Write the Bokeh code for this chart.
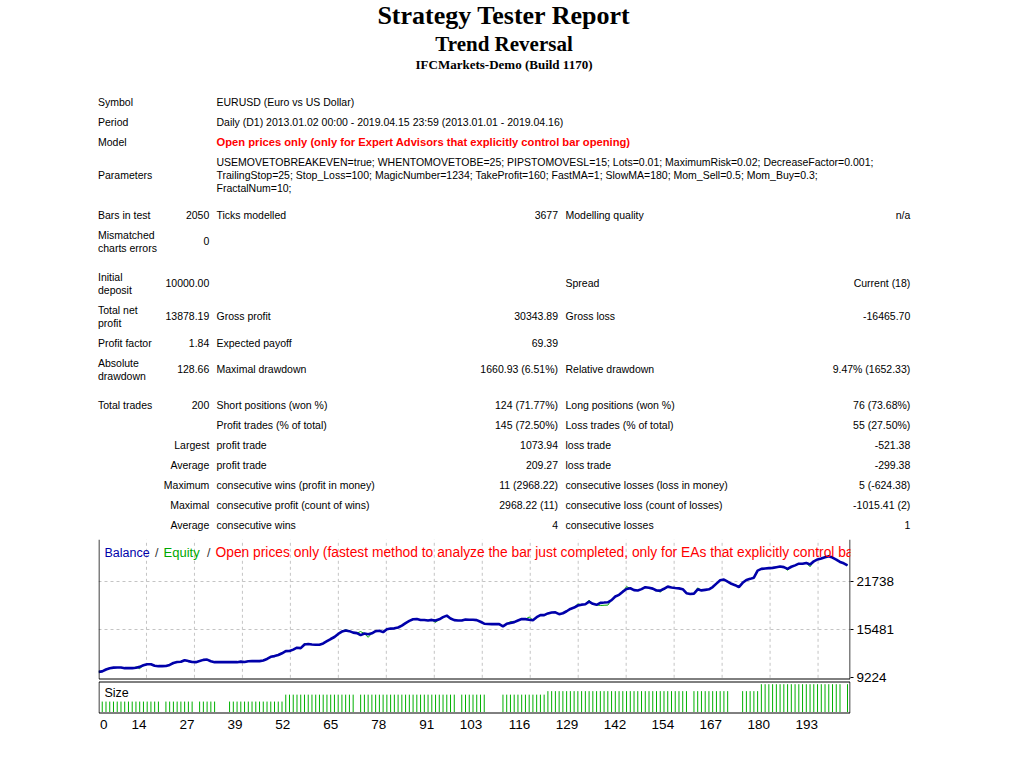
from bokeh.plotting import figure
from bokeh.models import Range1d, FixedTicker
from bokeh.layouts import column
from bokeh.embed import file_html
from bokeh.resources import INLINE
from bokeh.core.properties import value

# ---------------- data ----------------
report_title = "Strategy Tester Report"
expert_name = "Trend Reversal"
server_name = "IFCMarkets-Demo (Build 1170)"

info_labels = ["Symbol", "Period", "Model", "Parameters"]
info_values = [
    ["EURUSD (Euro vs US Dollar)"],
    ["Daily (D1) 2013.01.02 00:00 - 2019.04.15 23:59 (2013.01.01 - 2019.04.16)"],
    ["Open prices only (only for Expert Advisors that explicitly control bar opening)"],
    ["USEMOVETOBREAKEVEN=true; WHENTOMOVETOBE=25; PIPSTOMOVESL=15; Lots=0.01; MaximumRisk=0.02; DecreaseFactor=0.001;",
     "TrailingStop=25; Stop_Loss=100; MagicNumber=1234; TakeProfit=160; FastMA=1; SlowMA=180; Mom_Sell=0.5; Mom_Buy=0.3;",
     "FractalNum=10;"],
]

stat_col0 = ["Bars in test", "Mismatched\ncharts errors", "Initial\ndeposit", "Total net\nprofit",
             "Profit factor", "Absolute\ndrawdown", "Total trades", "", "", "", "", "", ""]
stat_col1 = ["2050", "0", "10000.00", "13878.19", "1.84", "128.66", "200", "",
             "Largest", "Average", "Maximum", "Maximal", "Average"]
stat_col2 = ["Ticks modelled", "", "", "Gross profit", "Expected payoff", "Maximal drawdown",
             "Short positions (won %)", "Profit trades (% of total)", "profit trade", "profit trade",
             "consecutive wins (profit in money)", "consecutive profit (count of wins)", "consecutive wins"]
stat_col3 = ["3677", "", "", "30343.89", "69.39", "1660.93 (6.51%)", "124 (71.77%)", "145 (72.50%)",
             "1073.94", "209.27", "11 (2968.22)", "2968.22 (11)", "4"]
stat_col4 = ["Modelling quality", "", "Spread", "Gross loss", "", "Relative drawdown",
             "Long positions (won %)", "Loss trades (% of total)", "loss trade", "loss trade",
             "consecutive losses (loss in money)", "consecutive loss (count of losses)", "consecutive losses"]
stat_col5 = ["n/a", "", "Current (18)", "-16465.70", "", "9.47% (1652.33)", "76 (73.68%)", "55 (27.50%)",
             "-521.38", "-299.38", "5 (-624.38)", "-1015.41 (2)", "1"]

balance = [
    10000, 10060, 10310, 10480, 10550, 10566, 10560, 10480, 10480, 10480,
    10540, 10650, 10850, 11000, 11000, 10800, 10740, 10740, 10760, 10900,
    11150, 11280, 11310, 11520, 11400, 11290, 11262, 11400, 11560, 11600,
    11380, 11262, 11262, 11262, 11262, 11262, 11262, 11262, 11330, 11280,
    11380, 11392, 11392, 11400, 11490, 11680, 11957, 12050, 12190, 12420,
    12700, 12720, 12900, 13150, 13090, 13560, 13620, 13565, 13530, 13540,
    13700, 13990, 14280, 14540, 14940, 15250, 15380, 15303, 15110, 15050,
    14790, 14990, 14900, 15020, 15300, 15350, 15180, 15560, 15640, 15670,
    15780, 16030, 16360, 16640, 16850, 16880, 16750, 16760, 16700, 16770,
    16680, 16850, 17127, 17330, 16960, 16740, 16693, 16693, 16820, 16800,
    16790, 16740, 16530, 16280, 16230, 16215, 16215, 16215, 15930, 16259,
    16360, 16480, 16700, 16880, 16870, 16790, 16737, 17128, 17388, 17388,
    17620, 17740, 17750, 17520, 17640, 17900, 18200, 18380, 18650, 18760,
    18810, 19150, 18870, 18740, 18996, 19030, 19070, 19350, 19822, 20040,
    20450, 20800, 20900, 20650, 20600, 20780, 21038, 20951, 20850, 20600,
    20590, 20830, 21110, 21000, 20930, 20880, 20780, 20250, 20150, 20200,
    20760, 20620, 20690, 20760, 21050, 21500, 21930, 22038, 21750, 21480,
    21300, 21038, 21603, 21980, 22120, 22280, 23200, 23420, 23480, 23515,
    23550, 23640, 23730, 23650, 23428, 23700, 23880, 24100, 24090, 24200,
    24000, 24400, 24650, 24780, 24950, 25080, 24900, 24640, 24330, 24150,
    23878,
]

equity = [
    10000, 10060, 10310, 10480, 10550, 10566, 10560, 10480, 10480, 10480,
    10640, 10420, 10850, 11000, 11000, 10800, 10740, 10740, 10760, 10900,
    11150, 11280, 11310, 11520, 11400, 11290, 11262, 11400, 11560, 11600,
    11380, 11262, 11262, 11262, 11262, 11262, 11262, 11262, 11330, 11280,
    11380, 11392, 11392, 11400, 11490, 11680, 11957, 12050, 12190, 12420,
    12700, 12720, 12900, 13150, 13090, 13700, 13620, 13565, 13530, 13540,
    13700, 13990, 14280, 14540, 14940, 15250, 15500, 15303, 15110, 15050,
    15250, 14990, 14500, 15020, 15300, 15350, 15180, 15560, 15640, 15670,
    15780, 16030, 16360, 16640, 16850, 16880, 16750, 16760, 16700, 16770,
    16450, 16850, 17127, 17330, 16960, 16740, 16693, 16693, 16820, 16800,
    16790, 16740, 16530, 16280, 16230, 16215, 16215, 16215, 15930, 16259,
    16560, 16480, 16700, 16880, 16870, 17150, 16737, 17128, 17388, 17388,
    17620, 17740, 17750, 17520, 17640, 17900, 18200, 18380, 18850, 18760,
    18810, 19350, 18870, 18740, 18650, 18680, 18700, 19350, 19822, 20040,
    20450, 21100, 20900, 20650, 20600, 20780, 21038, 20951, 20850, 20600,
    20400, 20830, 21110, 21000, 20930, 20880, 20780, 20250, 20150, 20200,
    20950, 20620, 20690, 20760, 21050, 21500, 21930, 22038, 21750, 21480,
    21300, 21038, 21603, 21980, 22120, 22280, 23200, 23420, 23480, 23515,
    23550, 23640, 23730, 23650, 23250, 23700, 23880, 24100, 24090, 24200,
    23700, 24400, 24650, 24780, 24950, 25080, 24900, 24640, 24330, 24150,
    23878,
]

lot_size = [
    0, .03, .03, .03, .03, .03, .03, .03, .03, .03,
    .03, .03, .03, .03, .03, .03, .03, 0, .03, .03,
    .03, .03, .03, .03, .03, .03, 0, .03, .03, .03,
    .03, .03, 0, 0, 0, .03, .03, .03, .03, .03,
    .03, .03, .03, .03, .03, .03, .03, .03, .03, .03,
    .05, .05, .05, .05, .05, .05, .05, .05, .05, .05,
    .05, .05, .05, .05, .05, .05, .05, .05, .05, 0,
    .05, .05, .05, .05, .05, .05, .05, .05, .05, .05,
    .05, .05, .05, .05, .05, .05, .05, .05, .05, .05,
    .05, .05, .05, .05, .05, .05, 0, .05, .05, .05,
    .05, .05, .05, .05, 0, 0, 0, 0, .05, .05,
    .05, .05, .05, .05, .05, .05, .05, .05, .05, .05,
    .06, .06, .06, .06, .06, .06, .06, .06, .06, .06,
    .06, .06, .06, .06, .06, .06, .06, .06, .06, .06,
    .06, .06, .06, .06, .06, .06, .06, .06, .06, .06,
    .06, .06, .06, .06, .06, .06, .06, .06, 0, .06,
    .06, .06, .06, .06, .06, .06, .06, .06, .06, 0,
    0, 0, .06, .06, .06, .06, .06, .08, .08, .08,
    .08, .08, .08, .08, .08, .08, .08, .08, .08, .08,
    .08, .08, .08, .08, .08, .08, .08, .08, .08, 0,
    .08,
]

y_ticks = [9224, 15481, 21738]
x_tick_labels = ["0", "14", "27", "39", "52", "65", "78", "91", "103", "116",
                 "129", "142", "154", "167", "180", "193"]

legend_parts = ["Balance", "/", "Equity", "/",
                "Open prices only (fastest method to analyze the bar just completed, "
                "only for EAs that explicitly control bar opening)"]

# ---------------- layout / style ----------------
W = 1024
TOP_H = 539
CH_H = 197
TABLE_FONT = "Liberation Sans"
SERIF = "Liberation Serif"
LINE = 13       # line spacing for wrapped cells
COL0, COL1R, COL2, COL3R, COL4, COL5R = 97.5, 208.8, 216, 557.5, 565, 909.8
info_y = [101.5, 121.5, 141.5, 174.5]
stat_y = [214.5, 240.5, 282.5, 315.5, 342.5, 368.5, 404.5, 424.5, 444.5, 464.5, 484.5, 504.5, 524.5]

BLUE = "#0000aa"
GREEN = "#00a800"
RED = "#ff0000"
GRID = "#c4c4c4"


def put(fig, xs, ys, texts, align="left", font=TABLE_FONT, size="10.5px",
        color="black", style="normal", **kw):
    if not texts:
        return
    fig.text(x=xs, y=ys, text=texts, text_align=align, text_baseline="alphabetic",
             text_font=value(font), text_font_size=size, text_color=color,
             text_font_style=style, **kw)


def split_cell(s, c):
    parts = s.split("\n")
    n = len(parts)
    return parts, [c + (j - (n - 1) / 2) * LINE for j in range(n)]


# ---------------- report header + table ----------------
pt = figure(width=W, height=TOP_H, x_range=Range1d(0, W), y_range=Range1d(TOP_H, 0),
            output_backend="svg", toolbar_location=None, x_axis_location=None,
            y_axis_location=None, min_border=0, outline_line_color=None,
            background_fill_color="white", border_fill_color="white")
pt.grid.visible = False
pt.frame_align = False

put(pt, [503.5], [15], [report_title], align="center", font=SERIF, size="26px", style="bold")
put(pt, [503.5], [43], [expert_name], align="center", font=SERIF, size="21px", style="bold")
put(pt, [503.5], [64], [server_name], align="center", font=SERIF, size="13px", style="bold")

for lab, vals, c in zip(info_labels, info_values, info_y):
    put(pt, [COL0], [c], [lab])
    n = len(vals)
    ys = [c + (j - (n - 1) / 2) * LINE for j in range(n)]
    is_model = lab == "Model"
    put(pt, [COL2] * n, ys, vals, color=RED if is_model else "black",
        style="bold" if is_model else "normal", size="11.2px" if is_model else "10.5px")

for col, xpos, align in [(stat_col0, COL0, "left"), (stat_col1, COL1R, "right"),
                         (stat_col2, COL2, "left"), (stat_col3, COL3R, "right"),
                         (stat_col4, COL4, "left"), (stat_col5, COL5R, "right")]:
    xs, ys, ts = [], [], []
    for s, c in zip(col, stat_y):
        if not s:
            continue
        parts, yy = split_cell(s, c)
        ts += parts
        ys += yy
        xs += [xpos] * len(parts)
    put(pt, xs, ys, ts, align=align)

# ---------------- balance / equity chart ----------------
FRAME_L, FRAME_R, FRAME_T, FRAME_B = 98, 850, 539, 736
PX_PER_TRADE = 3.745
Y_BASE_PX = 677.3
PX_PER_GRID_Y = 48.0
LOT_ZERO_PX = 711.5
PX_PER_LOT = 347.5
GRID_STEP = 47.97 / PX_PER_TRADE


def tx(px):
    return (px - FRAME_L) / PX_PER_TRADE


def bal(py):
    return y_ticks[0] + (Y_BASE_PX - py) * (y_ticks[1] - y_ticks[0]) / PX_PER_GRID_Y


def lot(py):
    return (LOT_ZERO_PX - py) / PX_PER_LOT


pc = figure(width=W, height=CH_H, x_range=Range1d(0, tx(FRAME_R)),
            y_range=Range1d(bal(FRAME_B), bal(FRAME_T)),
            output_backend="svg", toolbar_location=None, x_axis_location=None,
            y_axis_location="right", min_border_left=FRAME_L,
            min_border_right=W - FRAME_R, min_border_top=0, min_border_bottom=0,
            outline_line_color=None, background_fill_color="white",
            border_fill_color="white")
pc.frame_align = False
pc.extra_y_ranges = {"size": Range1d(lot(FRAME_B), lot(FRAME_T))}

ax = pc.yaxis[0]
ax.ticker = FixedTicker(ticks=y_ticks)
ax.axis_line_color = None
ax.major_tick_in = 0
ax.major_tick_out = 3
ax.major_tick_line_color = "black"
ax.minor_tick_line_color = None
ax.major_label_standoff = 3
ax.major_label_text_font = TABLE_FONT
ax.major_label_text_font_size = "13.5px"
ax.major_label_text_color = "black"

pc.xgrid.visible = False
pc.ygrid.ticker = FixedTicker(ticks=y_ticks[1:])
pc.ygrid.grid_line_color = GRID
pc.ygrid.grid_line_dash = "3 3"

top_val = bal(FRAME_T)
gx = [k * GRID_STEP for k in range(1, len(x_tick_labels))]
pc.segment(x0=gx, y0=[y_ticks[0]] * len(gx), x1=gx, y1=[top_val] * len(gx),
           line_color=GRID, line_dash="3 3", line_width=1)

trades = list(range(len(balance)))
pc.line(x=trades, y=equity, line_color=GREEN, line_width=1)
pc.line(x=trades, y=balance, line_color=BLUE, line_width=2.6)

# size panel bars
bt = [t for t, v in zip(trades, lot_size) if v > 0]
bv = [v for v in lot_size if v > 0]
pc.segment(x0=bt, y0=[0] * len(bt), x1=bt, y1=bv, y_range_name="size",
           line_color="#00b000", line_width=1)

# panel frames
xl, xr = tx(98.5), tx(849.5)
main_bottom, size_top, size_bottom = lot(678.5), lot(681.5), lot(712.5)
pc.multi_line(xs=[[xl, xl], [xr, xr], [xl, xr], [xl, xl], [xr, xr], [xl, xr], [xl, xr]],
              ys=[[main_bottom, lot(FRAME_T)], [main_bottom, lot(FRAME_T)],
                  [main_bottom, main_bottom], [size_top, size_bottom], [size_top, size_bottom],
                  [size_top, size_top], [size_bottom, size_bottom]],
              y_range_name="size", line_color="black", line_width=1)

# legend text
leg_x = [tx(v) for v in (104, 154.5, 163, 206.5, 215)]
leg_colors = [BLUE, "#333333", GREEN, "#333333", RED]
leg_sizes = ["12.5px", "12.5px", "13px", "12.5px", "13.8px"]
put(pc, leg_x, [lot(552)] * len(legend_parts), legend_parts, size=leg_sizes,
    color=leg_colors, y_range_name="size")

put(pc, [tx(104)], [lot(692.5)], ["Size"], size="12.5px", y_range_name="size")

# x tick labels (right aligned at grid lines, first one left aligned)
put(pc, [tx(99.5)], [lot(724)], [x_tick_labels[0]], size="13.5px", y_range_name="size")
put(pc, gx, [lot(724)] * len(gx), x_tick_labels[1:], align="right", size="13.5px",
    y_range_name="size")

layout = column(pt, pc)
open("out.html", "w").write(file_html(layout, INLINE))
